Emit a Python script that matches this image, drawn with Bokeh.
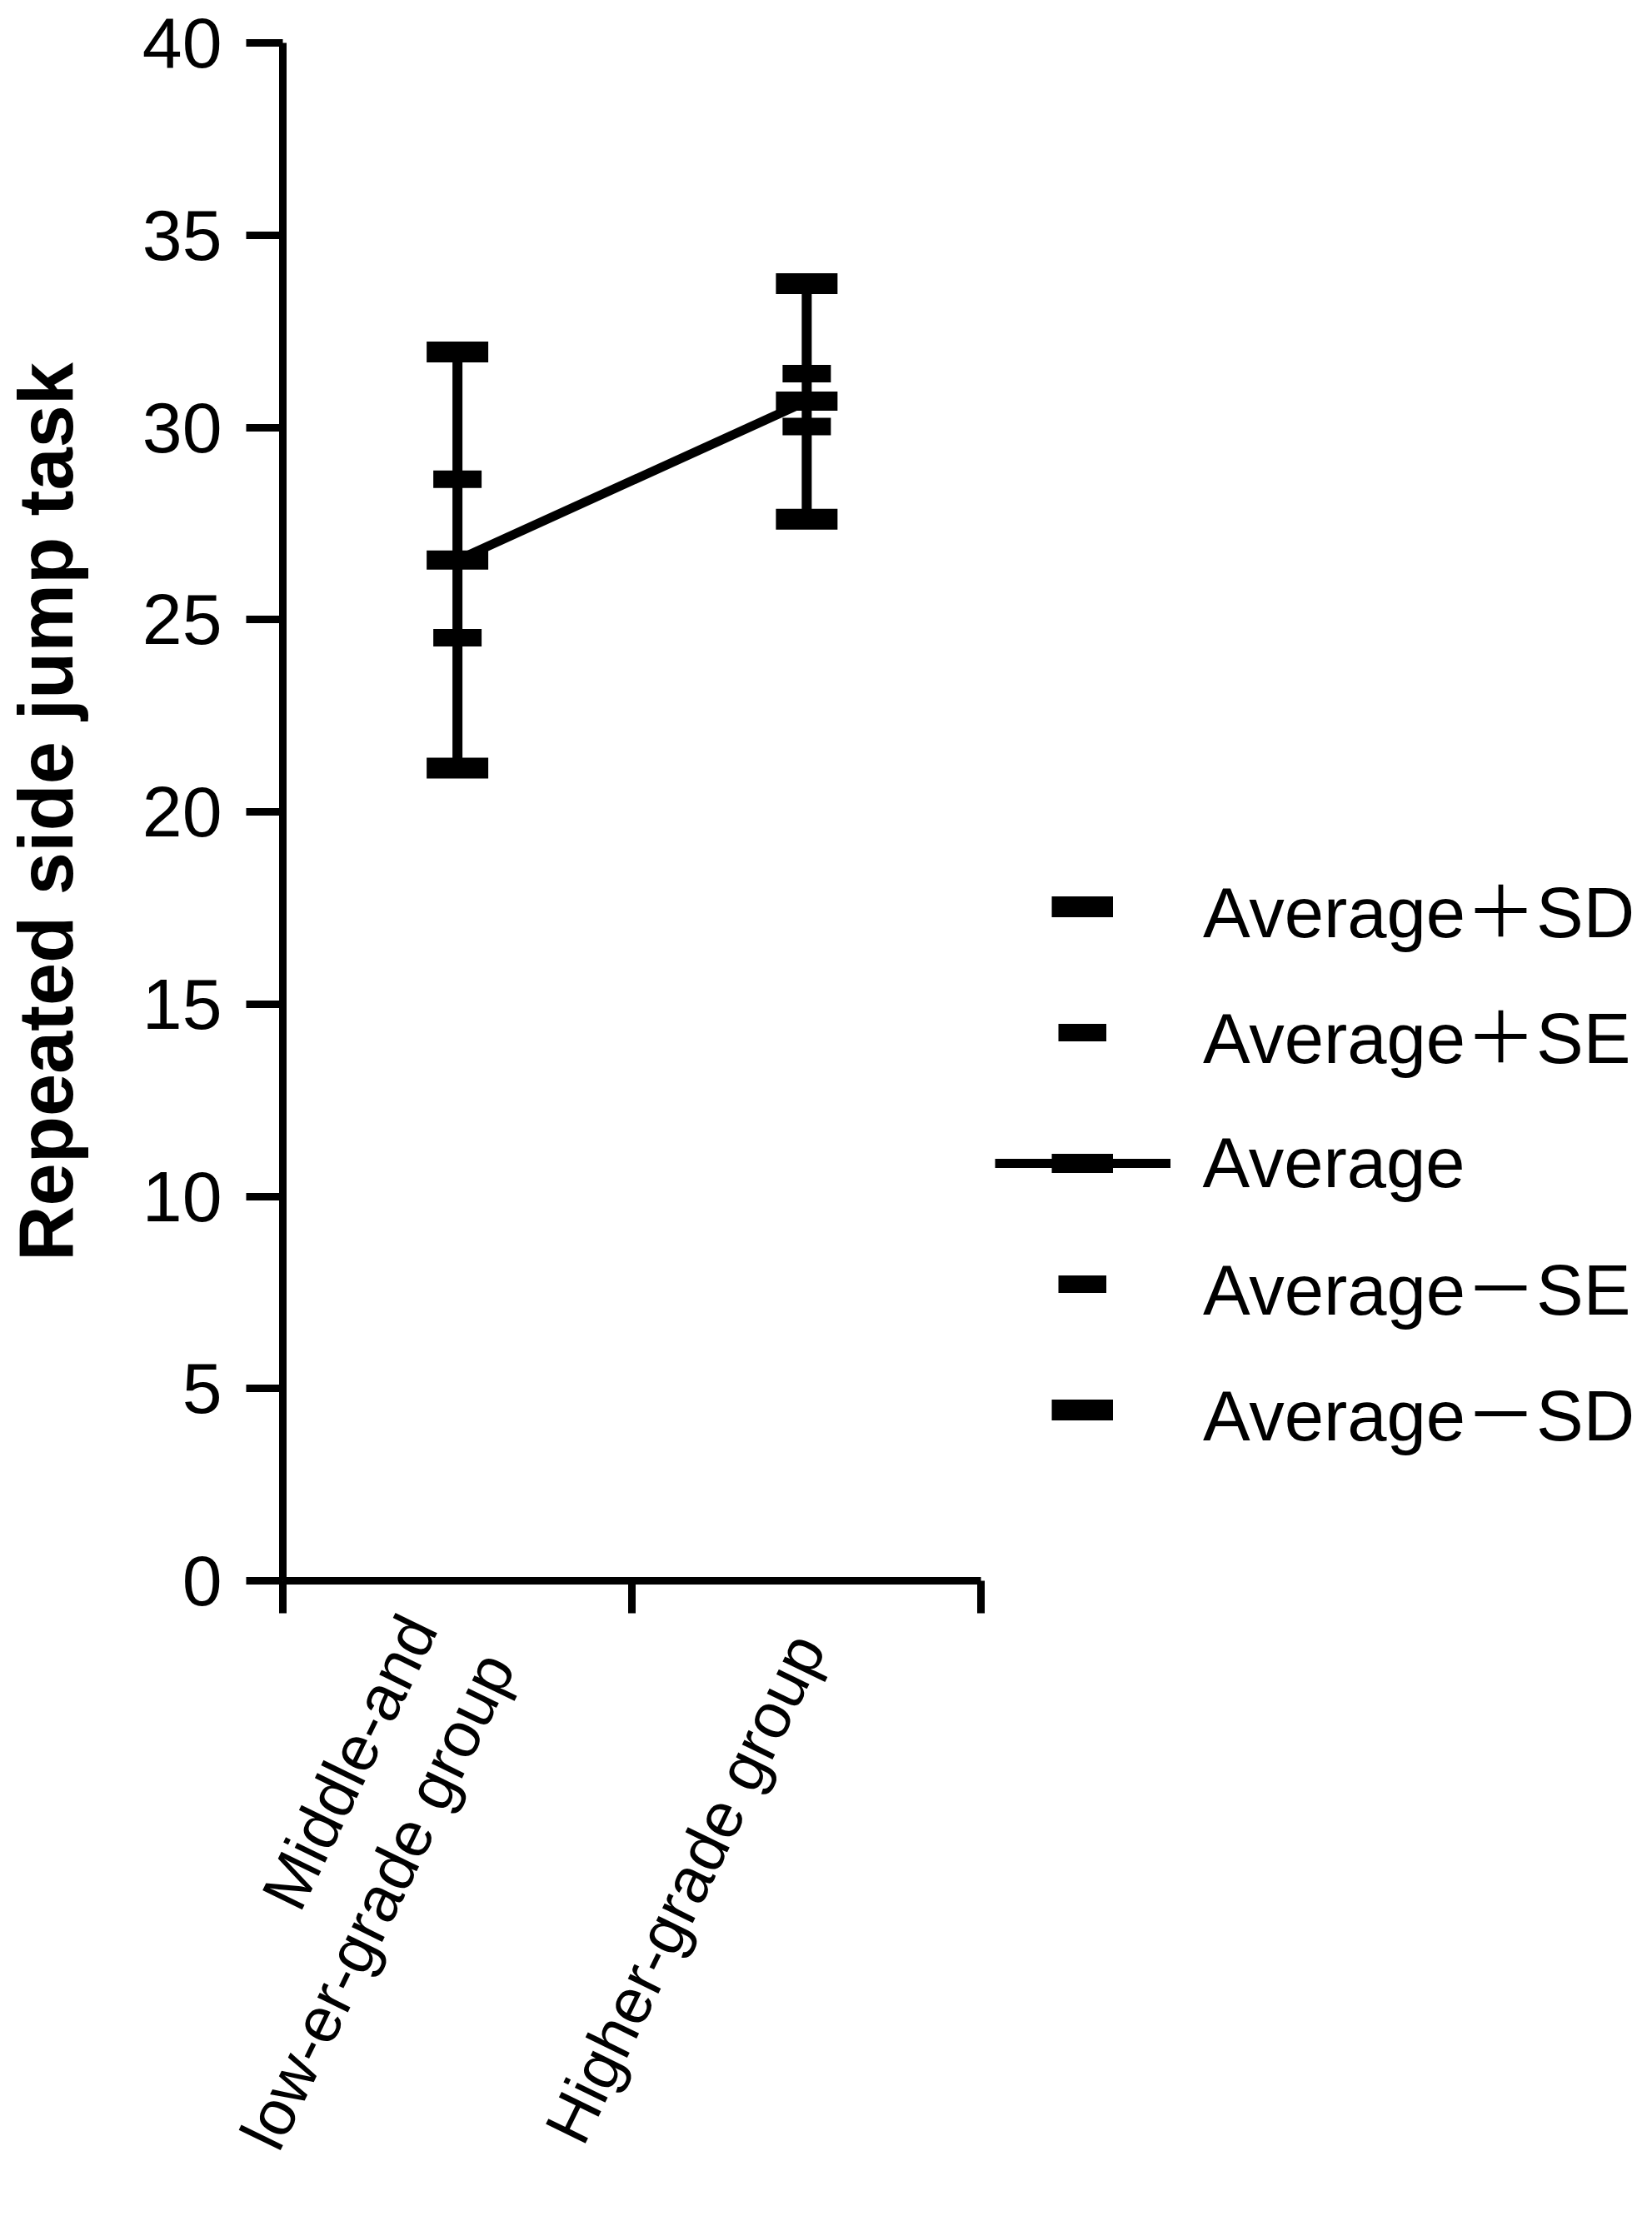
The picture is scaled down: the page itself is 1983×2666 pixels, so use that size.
import math
import numpy as np
from bokeh.plotting import figure
from bokeh.models import Range1d, LinearAxis, FixedTicker, Legend, LegendItem
from bokeh.embed import file_html
from bokeh.resources import INLINE

# ---------------- data ----------------
groups = ["Middle-and\nlow-er-grade group", "Higher-grade group"]
group_pos = [0.5, 1.5]
group_bounds = [0, 1, 2]
mean = [26.55, 30.68]
sd_upper = [31.96, 33.74]
sd_lower = [21.14, 27.61]
se_upper = [28.65, 31.40]
se_lower = [24.53, 30.02]
y_ticks = [0, 5, 10, 15, 20, 25, 30, 35, 40]
legend_labels = ["Average\uff0bSD", "Average\uff0bSE", "Average", "Average\uff0dSE", "Average\uff0dSD"]

# ---------------- style ----------------
FONT = "Liberation Sans, Noto Sans CJK SC"
W, H = 1967, 2650
FL, FT, FB = 338, 51, 753                 # borders -> frame
AXIS_W = 839                              # px covered by the two groups
PX = AXIS_W / 2.0                         # px per x data unit
X_END = (W - FL) / PX                     # frame runs to the right edge (legend area)
SD_CAP, SE_CAP, MEAN_CAP = 74, 58, 74     # cap widths (px)

gx = np.array(group_pos, dtype=float)

p = figure(width=W, height=H, x_range=Range1d(0, X_END), y_range=Range1d(0, 40),
           x_axis_type=None, y_axis_type=None, output_backend="svg",
           toolbar_location=None, min_border_left=FL, min_border_right=0,
           min_border_top=FT, min_border_bottom=FB)
p.outline_line_color = None
p.background_fill_color = "white"
p.border_fill_color = "white"

# y axis
yaxis = LinearAxis(ticker=FixedTicker(ticks=y_ticks),
                   axis_label="Repeated side jump task")
yaxis.axis_line_width = 9
yaxis.axis_line_color = "black"
yaxis.major_tick_line_width = 9
yaxis.major_tick_line_color = "black"
yaxis.major_tick_out = 44
yaxis.major_tick_in = 0
yaxis.minor_tick_line_color = None
yaxis.major_label_text_font = FONT
yaxis.major_label_text_font_size = "86px"
yaxis.major_label_text_color = "black"
yaxis.major_label_standoff = 29
yaxis.axis_label_text_font = FONT
yaxis.axis_label_text_font_style = "bold"
yaxis.axis_label_text_font_size = "92px"
yaxis.axis_label_text_color = "black"
yaxis.axis_label_standoff = 62
p.add_layout(yaxis, "left")

# x axis (labels at group centres, ticks at group boundaries)
xaxis = LinearAxis(ticker=FixedTicker(ticks=group_pos, minor_ticks=group_bounds),
                   major_label_overrides={pos: lab for pos, lab in zip(group_pos, groups)},
                   bounds=(group_bounds[0], group_bounds[-1]))
xaxis.axis_line_width = 9
xaxis.axis_line_color = "black"
xaxis.major_tick_out = 0
xaxis.major_tick_in = 0
xaxis.major_tick_line_color = None
xaxis.minor_tick_line_color = "black"
xaxis.minor_tick_line_width = 9
xaxis.minor_tick_out = 39
xaxis.minor_tick_in = 0
xaxis.major_label_orientation = math.radians(64)
xaxis.major_label_text_font = FONT
xaxis.major_label_text_font_size = "77px"
xaxis.major_label_text_color = "black"
xaxis.major_label_standoff = 30
p.add_layout(xaxis, "below")

# glyphs
mean_line = p.line(gx, mean, line_width=11, line_color="black")
p.segment(x0=gx, y0=sd_lower, x1=gx, y1=sd_upper, line_width=12, line_color="black")


def cap(values, width_px, thick):
    half = width_px / 2.0 / PX
    return p.segment(x0=gx - half, y0=values, x1=gx + half, y1=values,
                     line_width=thick, line_color="black", line_cap="butt")


sd_up_r = cap(sd_upper, SD_CAP, 25)
se_up_r = cap(se_upper, SE_CAP, 21)
mean_r = cap(mean, MEAN_CAP, 23)
se_lo_r = cap(se_lower, SE_CAP, 21)
sd_lo_r = cap(sd_lower, SD_CAP, 25)

# legend (one Legend per entry so each key keeps its own size)
ROW = 110
centers = [1094, 1245, 1396, 1547, 1698]   # item centres, px from top of figure
LABEL_X = 1443                              # label start, px from left of figure
frame_bottom = H - FB


def add_legend(label, renderer, key_w, key_center_x, row_center):
    left = key_center_x - key_w / 2.0
    leg = Legend(items=[LegendItem(label=label, renderers=[renderer])],
                 location=(left - FL, frame_bottom - row_center - ROW / 2.0),
                 glyph_width=int(key_w), glyph_height=ROW, label_height=ROW,
                 label_standoff=int(LABEL_X - (left + key_w)),
                 padding=0, margin=0, spacing=0,
                 border_line_color=None, background_fill_alpha=0,
                 label_text_font=FONT, label_text_font_size="85px",
                 label_text_color="black")
    p.add_layout(leg)


KEY_X = 1298
add_legend(legend_labels[0], sd_up_r, SD_CAP, KEY_X, centers[0])
add_legend(legend_labels[1], se_up_r, SE_CAP, KEY_X, centers[1])
add_legend(legend_labels[2], mean_line, 211, KEY_X, centers[2])
add_legend(" ", mean_r, MEAN_CAP, KEY_X, centers[2])
add_legend(legend_labels[3], se_lo_r, SE_CAP, KEY_X, centers[3])
add_legend(legend_labels[4], sd_lo_r, SD_CAP, KEY_X, centers[4])

open("out.html", "w").write(file_html(p, INLINE))
